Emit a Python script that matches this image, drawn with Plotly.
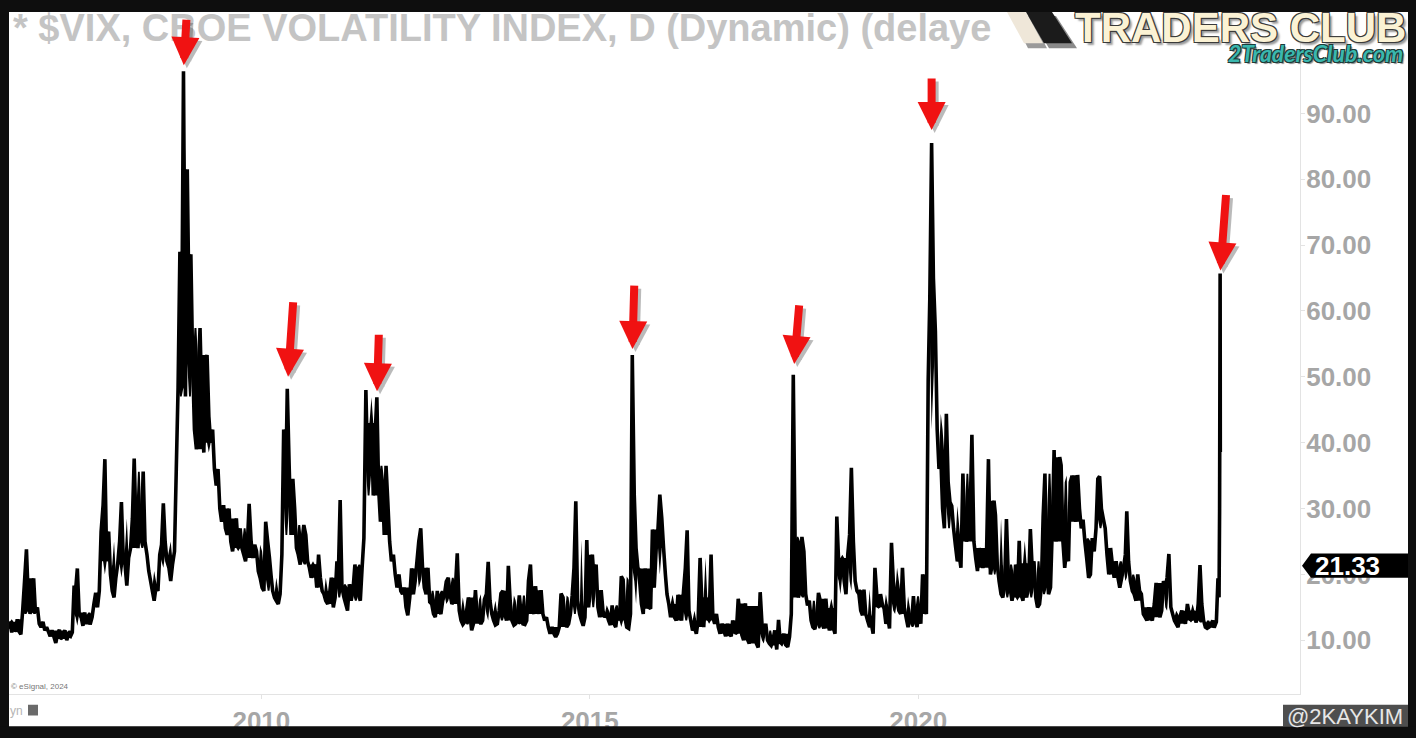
import plotly.graph_objects as go

# ---------------- data (VIX: 3 readings per month) ----------------
vix_2006 = [12.5, 13.5, 11.8, 12.8, 11.2, 12.4, 11.5, 13.2, 11.3, 10.9, 14.5, 18.8,
            23.8, 16.5, 14.0, 16.0, 19.4, 14.2, 15.0, 12.5, 12.0, 12.8, 11.5, 12.0,
            11.3, 10.6, 11.5, 10.5, 9.6, 10.9, 11.6, 10.2, 10.9]            # Feb..Dec
vix_2007 = [11.5, 10.0, 10.8, 10.6, 11.2, 18.3, 17.5, 20.9, 14.0, 13.5, 12.2, 14.2,
            12.6, 13.8, 12.4, 13.5, 15.5, 17.2, 15.0, 17.5, 26.5, 30.5, 37.5, 22.0,
            26.5, 20.0, 17.5, 16.5, 19.5, 21.5, 25.0, 31.0, 22.5, 21.5, 18.3, 22.5]
vix_2008 = [24.0, 28.5, 37.6, 26.0, 24.0, 29.0, 26.5, 35.6, 25.0, 23.0, 20.5, 19.0,
            17.5, 16.0, 18.0, 17.5, 23.0, 24.5, 30.8, 25.0, 22.0, 21.0, 19.0, 21.5,
            23.5, 36.0, 48.4, 69.0, 55.0, 96.4, 47.0, 81.5, 60.0, 68.6, 52.0, 42.0]
vix_2009 = [39.0, 50.0, 57.4, 45.0, 38.5, 52.6, 53.3, 44.0, 40.0, 42.0, 36.0, 33.5,
            36.0, 30.0, 28.0, 30.5, 27.0, 26.0, 30.0, 25.0, 23.5, 26.0, 28.5, 24.0,
            27.0, 24.0, 23.0, 22.0, 24.5, 30.7, 25.0, 22.5, 24.5, 23.5, 20.5, 19.5]
vix_2010 = [18.0, 17.5, 28.0, 25.0, 22.5, 19.5, 17.5, 16.5, 16.0, 15.5, 17.0, 23.0,
            42.0, 31.0, 48.2, 36.0, 26.0, 34.5, 30.0, 24.0, 23.0, 21.5, 25.0, 27.5,
            26.0, 22.0, 21.0, 19.5, 20.5, 21.5, 18.0, 23.0, 19.5, 17.5, 17.0, 16.0]
vix_2011 = [15.5, 17.0, 19.5, 15.0, 16.5, 22.0, 20.0, 31.3, 18.0, 16.5, 15.5, 14.5,
            18.5, 16.0, 17.5, 21.5, 19.0, 17.0, 16.0, 21.0, 25.5, 48.0, 36.0, 40.0,
            43.0, 32.0, 41.0, 46.9, 33.0, 28.0, 34.0, 26.0, 36.5, 31.0, 25.0, 22.0]
vix_2012 = [23.0, 20.0, 18.0, 20.0, 17.5, 17.0, 18.0, 15.0, 13.8, 16.5, 20.9, 17.0,
            19.0, 22.0, 25.0, 27.0, 21.0, 18.0, 17.0, 21.0, 15.8, 15.5, 14.0, 13.5,
            17.5, 14.5, 14.0, 16.0, 17.0, 18.9, 19.5, 17.0, 15.5, 16.0, 18.0, 23.2]
vix_2013 = [14.5, 13.0, 12.4, 12.8, 14.5, 16.5, 14.0, 11.5, 12.5, 17.6, 13.5, 13.0,
            12.5, 13.0, 16.2, 17.0, 21.9, 16.0, 14.0, 13.0, 12.3, 12.5, 14.5, 17.1,
            17.5, 14.0, 13.0, 21.3, 16.0, 13.0, 12.3, 12.5, 13.8, 16.8, 14.0, 12.5]
vix_2014 = [12.4, 13.0, 19.0, 21.5, 15.0, 14.0, 18.2, 15.5, 14.0, 17.6, 14.0, 13.0,
            13.5, 12.0, 11.0, 12.0, 11.0, 10.5, 11.0, 12.0, 17.1, 16.5, 13.0, 12.0,
            12.5, 14.0, 16.8, 21.0, 31.1, 16.0, 14.0, 13.0, 12.2, 13.5, 25.2, 15.0]
vix_2015 = [18.0, 23.0, 19.0, 21.5, 15.0, 13.5, 17.6, 14.5, 13.5, 14.0, 13.0, 12.3,
            15.3, 12.5, 12.0, 14.5, 13.0, 19.7, 19.2, 13.5, 12.0, 11.8, 14.0, 53.3,
            32.0, 24.0, 21.0, 19.0, 15.5, 14.0, 20.9, 16.0, 15.0, 14.8, 26.8, 18.0]
vix_2016 = [24.0, 27.0, 32.1, 28.5, 24.0, 20.0, 17.0, 15.5, 13.5, 15.5, 13.5, 13.0,
            16.9, 14.5, 13.0, 17.5, 21.0, 26.7, 14.5, 13.0, 11.5, 12.0, 11.0, 13.0,
            22.5, 15.5, 12.0, 16.5, 15.0, 13.0, 23.0, 13.5, 12.5, 14.0, 12.0, 11.0]
vix_2017 = [12.5, 11.5, 10.6, 12.5, 11.0, 10.6, 13.0, 11.5, 11.0, 16.3, 14.0, 10.8,
            10.0, 15.6, 10.2, 9.5, 11.0, 15.2, 11.5, 9.5, 8.9, 17.3, 12.5, 11.0,
            12.5, 10.0, 9.5, 9.2, 10.0, 11.5, 8.6, 13.1, 9.5, 10.0, 11.0, 9.3]
vix_2018 = [9.0, 10.5, 14.0, 50.3, 25.0, 19.0, 16.5, 17.5, 25.7, 23.5, 17.0, 15.3,
            16.0, 13.0, 12.0, 11.7, 13.0, 17.2, 16.0, 12.5, 11.8, 16.3, 13.0, 11.5,
            14.9, 12.0, 11.0, 28.8, 22.0, 20.0, 22.5, 19.0, 17.0, 23.0, 26.0, 36.2]
vix_2019 = [25.0, 19.0, 17.5, 17.0, 14.5, 13.8, 17.7, 14.0, 13.0, 12.0, 12.5, 11.0,
            21.0, 17.0, 15.0, 17.0, 15.5, 14.8, 12.5, 13.5, 11.8, 24.8, 19.0, 17.0,
            16.0, 14.5, 14.0, 21.0, 15.0, 13.5, 12.0, 13.0, 12.7, 16.7, 13.0, 12.0]
vix_2020 = [14.5, 12.5, 20.0, 15.0, 14.0, 49.5, 62.0, 85.5, 65.0, 57.0, 42.0, 36.0,
            38.0, 30.0, 27.0, 44.4, 34.0, 31.0, 30.4, 27.0, 24.5, 22.0, 23.0, 21.0,
            35.3, 27.0, 25.0, 26.0, 29.0, 41.2, 25.0, 22.5, 20.5, 24.0, 22.0, 21.0]
vix_2021 = [22.0, 24.0, 37.5, 20.0, 21.5, 31.2, 29.0, 21.5, 19.0, 17.0, 16.5, 18.5,
            28.4, 20.0, 18.0, 16.0, 17.5, 21.5, 16.5, 25.1, 17.0, 16.0, 21.7, 16.5,
            18.0, 26.9, 21.0, 22.0, 16.5, 15.0, 15.5, 18.0, 28.8, 35.3, 21.0, 17.0]
vix_2022 = [18.0, 27.0, 38.9, 25.0, 30.0, 37.8, 36.6, 25.0, 21.0, 24.0, 22.0, 34.0,
            35.0, 30.0, 28.0, 35.1, 30.0, 27.0, 28.3, 25.0, 22.5, 19.5, 20.0, 25.5,
            23.5, 27.0, 34.5, 34.9, 30.0, 28.5, 27.0, 23.0, 20.0, 24.0, 21.5, 19.5]
vix_2023 = [22.0, 19.5, 18.0, 19.5, 21.0, 23.0, 29.6, 22.0, 19.0, 17.5, 17.0, 16.0,
            20.0, 17.5, 17.0, 14.0, 13.5, 13.0, 15.0, 13.5, 13.0, 15.5, 18.7, 15.0,
            13.5, 14.5, 19.0, 18.0, 19.5, 23.1, 15.0, 14.0, 13.0, 12.5, 12.0, 13.5]
vix_2024 = [14.5, 13.5, 12.5, 15.5, 14.0, 13.0, 14.5, 13.5, 12.7, 15.5, 21.4, 15.5,
            13.0, 12.0, 11.8, 12.0, 12.5, 13.0]                                # Jan..Jun
vix_tail_dates = ["2024-07-03", "2024-07-15", "2024-07-24", "2024-07-30",
                  "2024-08-02", "2024-08-05", "2024-08-06"]
vix_tail_values = [11.9, 12.8, 19.4, 16.5, 29.7, 65.7, 38.6]

x_tick_years = ["2010", "2015", "2020"]
y_tick_values = [10, 20, 30, 40, 50, 60, 70, 80, 90]
last_price = 21.33

# ---------------- assemble series ----------------
year_blocks = [(2006, 2, vix_2006), (2007, 1, vix_2007), (2008, 1, vix_2008),
               (2009, 1, vix_2009), (2010, 1, vix_2010), (2011, 1, vix_2011),
               (2012, 1, vix_2012), (2013, 1, vix_2013), (2014, 1, vix_2014),
               (2015, 1, vix_2015), (2016, 1, vix_2016), (2017, 1, vix_2017),
               (2018, 1, vix_2018), (2019, 1, vix_2019), (2020, 1, vix_2020),
               (2021, 1, vix_2021), (2022, 1, vix_2022), (2023, 1, vix_2023),
               (2024, 1, vix_2024)]
DAYS = (5, 15, 25)
dates, values = [], []
for year, first_month, vals in year_blocks:
    for i, v in enumerate(vals):
        month = first_month + i // 3
        dates.append(f"{year}-{month:02d}-{DAYS[i % 3]:02d}")
        values.append(v)
dates += vix_tail_dates
values += vix_tail_values

# dense "daily noise" core of the line: fill valleys/peaks between neighbouring readings
CORE_REACH = 3
core_lo, core_hi = [], []
for i, v in enumerate(values):
    left = values[max(0, i - CORE_REACH):i] or [v]
    right = values[i + 1:i + 1 + CORE_REACH] or [v]
    core_hi.append(max(v, min(max(left), max(right))))
    core_lo.append(min(v, max(min(left), min(right))))

# ---------------- geometry ----------------
W, H = 1416, 745
ML, MR, MT, MB = 9, 116, 12, 35
PW = W - ML - MR
PH = H - MT - MB
YMIN, YMAX = 1.84, 105.4
PX_PER_UNIT = PH / (YMAX - YMIN)


def px(xp):
    return (xp - ML) / PW


def py(yp):
    return (H - MB - yp) / PH


GRAY_TXT = "#a6a6a6"
FONT = "Liberation Sans, Arial, sans-serif"

fig = go.Figure()
fig.add_trace(go.Scatter(x=dates, y=core_lo, mode="lines", line=dict(width=0, color="#000000"),
                         hoverinfo="skip"))
fig.add_trace(go.Scatter(x=dates, y=core_hi, mode="lines", line=dict(width=0, color="#000000"),
                         fill="tonexty", fillcolor="#000000", hoverinfo="skip"))
fig.add_trace(go.Scatter(x=dates, y=values, mode="lines",
                         line=dict(color="#000000", width=3.6, simplify=False),
                         hoverinfo="skip"))

shapes = []
annotations = []


def poly(points, color):
    path = "M " + " L ".join(f"{px(a):.5f},{py(b):.5f}" for a, b in points) + " Z"
    return dict(type="path", xref="paper", yref="paper", path=path,
                fillcolor=color, line=dict(width=0), layer="above")

# ---- logo stripes ----
shapes.append(poly([(1012, 16), (1030, 16), (1047, 49), (1028, 49)], "#9a9a9a"))
shapes.append(poly([(1030, 16), (1056, 16), (1077, 49), (1049, 49)], "#8a8a8a"))
shapes.append(poly([(1007, 12), (1026, 12), (1043, 44), (1024, 44)], "#efe7d9"))
shapes.append(poly([(1026, 12), (1052, 12), (1072, 44), (1044, 44)], "#1b1b1b"))

# ---- price label ----
y_half = 12.5 / PX_PER_UNIT
lbl_path = (f"M {px(1302):.5f},{last_price:.4f} L {px(1311):.5f},{last_price + y_half:.4f} "
            f"L {px(1420):.5f},{last_price + y_half:.4f} L {px(1420):.5f},{last_price - y_half:.4f} "
            f"L {px(1311):.5f},{last_price - y_half:.4f} Z")
shapes.append(dict(type="path", xref="paper", yref="y", path=lbl_path,
                   fillcolor="#000000", line=dict(width=0), layer="above"))

# ---- watermark box ----
shapes.append(dict(type="rect", xref="paper", yref="paper", x0=px(1283), x1=px(1420),
                   y0=py(743), y1=py(721), fillcolor="#4e4e4e", line=dict(width=0), layer="above"))
# ---- small icon bottom-left ----
shapes.append(dict(type="rect", xref="paper", yref="paper", x0=px(28), x1=px(38),
                   y0=py(732), y1=py(721), fillcolor="#6a6a6a", line=dict(width=0), layer="above"))

# ---- black frame ----
for x0, x1, y0, y1 in [(-10, W + 10, -10, 12), (-10, 9, -10, H + 10),
                       (1408, W + 10, -10, H + 10), (-10, W + 10, 743, H + 10)]:
    shapes.append(dict(type="rect", xref="paper", yref="paper", x0=px(x0), x1=px(x1),
                       y0=py(y1), y1=py(y0), fillcolor="#0e0e0e", line=dict(width=0), layer="above"))

# ---- texts ----
annotations.append(dict(xref="paper", yref="paper", x=px(12), y=py(28), xanchor="left", yanchor="middle",
                        text="* $VIX, CBOE VOLATILITY INDEX, D (Dynamic) (delaye", showarrow=False,
                        borderpad=0, font=dict(family=FONT, size=38, color="#c4c4c4", weight="bold")))
outline = ("-1px -1px 0 #3a3a3a, 1px -1px 0 #3a3a3a, -1px 1px 0 #3a3a3a, 1px 1px 0 #3a3a3a, "
           "3px 3px 2px #9a9a9a")
annotations.append(dict(xref="paper", yref="paper", x=px(1074), y=py(28), xanchor="left", yanchor="middle",
                        text="TRADERS CLUB", showarrow=False, borderpad=0,
                        font=dict(family=FONT, size=42, color="#fbf2d4", weight="bold", shadow=outline)))
outline2 = ("-1px -1px 0 #1e3a38, 1px -1px 0 #1e3a38, -1px 1px 0 #1e3a38, 1px 1px 0 #1e3a38, "
            "2px 2px 1px #8a8a8a")
annotations.append(dict(xref="paper", yref="paper", x=px(1404), y=py(54), xanchor="right", yanchor="middle",
                        text="2TradersClub.com", showarrow=False, borderpad=0,
                        font=dict(family="Lato, sans-serif", size=23, color="#3ab7ae", weight="bold",
                                  style="italic", shadow=outline2)))
annotations.append(dict(xref="paper", yref="paper", x=px(10), y=py(702), xanchor="left", yanchor="middle",
                        text="© eSignal, 2024", showarrow=False, borderpad=0,
                        font=dict(family=FONT, size=8, color="#777777")))
annotations.append(dict(xref="paper", yref="paper", x=px(9), y=py(727), xanchor="left", yanchor="middle",
                        text="yn", showarrow=False, borderpad=0,
                        font=dict(family=FONT, size=12, color="#b5b5b5")))
annotations.append(dict(xref="paper", yref="paper", x=px(1345), y=py(733), xanchor="center", yanchor="middle",
                        text="@2KAYKIM", showarrow=False, borderpad=0,
                        font=dict(family=FONT, size=22, color="#e6e6e6")))
annotations.append(dict(xref="paper", yref="y", x=px(1347), y=last_price, xanchor="center", yanchor="middle",
                        text=f"{last_price:.2f}", showarrow=False, borderpad=0,
                        font=dict(family=FONT, size=26, color="#ffffff", weight="bold")))

# ---- red arrows at the peaks ----
arrow_specs = [
    (("2008-09-01", "2008-12-31"), 3, -53, 6),
    (("2010-04-01", "2010-07-01"), 6, -88, 12),
    (("2011-09-20", "2011-12-31"), 2, -64, 6),
    (("2015-07-01", "2015-10-01"), 2, -71, 6),
    (("2018-01-01", "2018-03-01"), 6, -71, 11),
    (("2020-02-01", "2020-04-30"), 0, -66, 13),
    (("2024-07-20", "2024-08-10"), 6, -80, 3),
]


def peak_in(start, end):
    best = None
    for d, v in zip(dates, values):
        if start <= d <= end and (best is None or v > best[1]):
            best = (d, v)
    return best


for (start, end), ax, ay, so in arrow_specs:
    d, v = peak_in(start, end)
    for color, xs, ys in [("rgba(60,60,60,0.35)", 3, -3), ("#f01212", 0, 0)]:
        annotations.append(dict(x=d, y=v, xref="x", yref="y", text="", showarrow=True,
                                arrowhead=2, arrowsize=0.7, arrowwidth=8, arrowcolor=color,
                                ax=ax, ay=ay, standoff=so, xshift=xs, yshift=ys))

fig.update_layout(
    width=W, height=H, autosize=False,
    margin=dict(l=ML, r=MR, t=MT, b=MB, pad=0),
    paper_bgcolor="#ffffff", plot_bgcolor="#ffffff",
    showlegend=False, hovermode=False,
    shapes=shapes, annotations=annotations,
    xaxis=dict(type="date", range=["2006-02-28", "2025-10-23"],
               tickvals=[f"{y}-01-01" for y in x_tick_years], ticktext=x_tick_years,
               tickfont=dict(family=FONT, size=26, color=GRAY_TXT, weight="bold"),
               showgrid=False, zeroline=False, showline=True, linecolor="#e3e3e3", linewidth=1,
               ticks="outside", ticklen=4, tickcolor="#e3e3e3"),
    yaxis=dict(side="right", range=[YMIN, YMAX], tickvals=y_tick_values, tickformat=".2f",
               tickfont=dict(family=FONT, size=26, color=GRAY_TXT, weight="bold"),
               showgrid=False, zeroline=False, showline=True, linecolor="#e3e3e3", linewidth=1,
               ticks="outside", ticklen=4, tickcolor="#e3e3e3", ticklabelstandoff=-4),
)

fig.write_html("out.html", config={"displayModeBar": False},
               post_script="document.documentElement.style.margin='0';document.body.style.margin='0';")
